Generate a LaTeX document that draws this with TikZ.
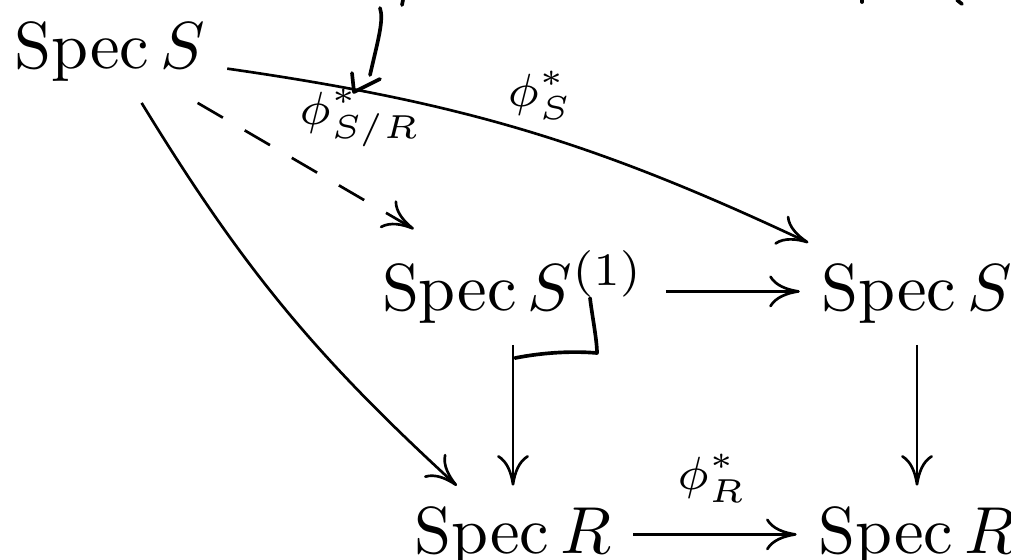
\documentclass[tikz,border=0pt]{standalone}
\usepackage{amsmath}
\usetikzlibrary{arrows.meta}
\begin{document}
\begin{tikzpicture}[x=0.15037pt,y=0.15037pt,
  obj/.style={anchor=base, inner sep=3.1pt},
  lbl/.style={inner sep=0pt},
  cdarrow/.style={-{Computer Modern Rightarrow[length=4.6pt,width=4.8pt]}, line width=0.4pt},
  hand/.style={line width=0.55pt, line cap=round, line join=round},
  dsh/.style={dash pattern=on 4.4pt off 3.8pt}]
\useasboundingbox (0,0) rectangle (1011,-559);
\clip (0,0) rectangle (1011,-559);
\node[obj] (A) at (110,-68) {$\operatorname{Spec} S$};
\node[obj] (B) at (513,-310) {$\operatorname{Spec} S^{(1)}$};
\node[obj] (C) at (917,-310) {$\operatorname{Spec} S$};
\node[obj] (D) at (513,-553) {$\operatorname{Spec} R$};
\node[obj] (E) at (917,-553) {$\operatorname{Spec} R$};
\draw[cdarrow, dsh] (A) -- (B);
\draw[cdarrow] (A) to[bend left=8.5] (C);
\draw[cdarrow] (A) to[bend right=8] (D);
\draw[cdarrow] ([yshift=2.8pt]B.base east) -- ([yshift=2.8pt]C.base west);
\draw[cdarrow] (B) -- (D);
\draw[cdarrow] (C) -- (E);
\draw[cdarrow] ([yshift=2.8pt]D.base east) -- ([yshift=2.8pt]E.base west);
\node[lbl] (lS) at (540,-95) {$\scriptstyle\phi^*_S$};
\node[lbl] (lSR) at (360,-118) {$\scriptstyle\phi^*_{S/R}$};
\node[lbl] (lR) at (712,-478) {$\scriptstyle\phi^*_R$};
\draw[hand] (380,-8) .. controls (384,-20) and (378,-40) .. (370,-75);
\draw[hand] (352,-73) -- (354,-92) -- (380,-79);
\draw[hand] (403,0) -- (402,-5);
\draw[hand] (957,0) -- (962,-4);
\draw[hand] (862,0) -- (862,-2);
\draw[hand] (590,-298) .. controls (592,-315) and (597,-340) .. (597,-353)
  .. controls (575,-351) and (545,-352) .. (515,-358);
\end{tikzpicture}
\end{document}
